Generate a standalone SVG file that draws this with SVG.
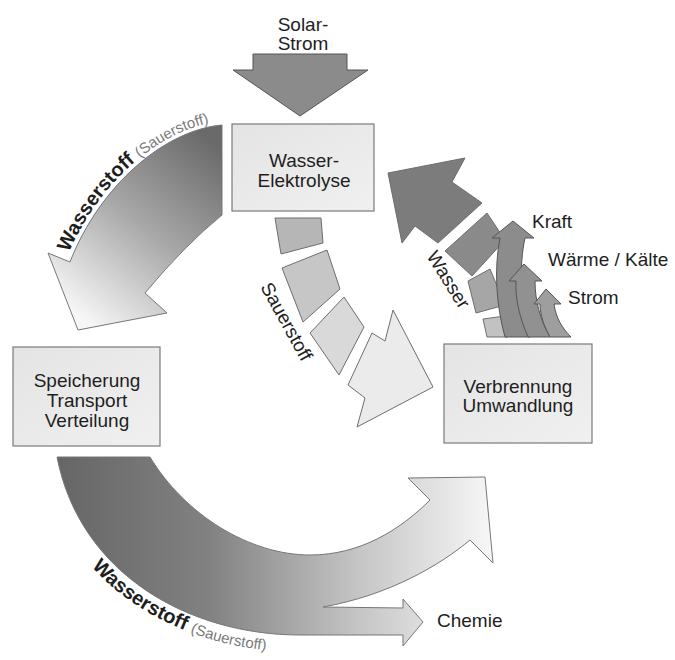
<svg xmlns="http://www.w3.org/2000/svg" width="675" height="660" viewBox="0 0 675 660">
<style>
text{font-family:"Liberation Sans",Arial,sans-serif;fill:#1e1e1e;font-size:19px}
.box{fill:url(#boxg);stroke:#7a7a7a;stroke-width:1.2}
.seg{stroke:#6e6e6e;stroke-width:1}
.dark{stroke:#555;stroke-width:1}
.bold{font-weight:bold;font-size:20px}
.paren{fill:#7a7a7a;font-size:15px;font-weight:normal}
</style>
<defs>
<linearGradient id="boxg" x1="0" y1="0" x2="1" y2="1"><stop offset="0" stop-color="#e4e4e4"/><stop offset="1" stop-color="#f0f0f0"/></linearGradient>
<linearGradient id="gl" gradientUnits="userSpaceOnUse" x1="222" y1="150" x2="85" y2="320"><stop offset="0" stop-color="#6a6a6a"/><stop offset="0.5" stop-color="#a8a8a8"/><stop offset="1" stop-color="#f6f6f6"/></linearGradient>
<linearGradient id="gb" gradientUnits="userSpaceOnUse" x1="57" y1="0" x2="490" y2="0"><stop offset="0" stop-color="#666"/><stop offset="0.35" stop-color="#818181"/><stop offset="0.7" stop-color="#c6c6c6"/><stop offset="1" stop-color="#f6f6f6"/></linearGradient>
<path id="tpTop" d="M66,260 C96,183 162,127 222,121"/>
<path id="tpBot" d="M40,460 C64,590 185,652 300,652 L400,652"/>
</defs>

<g id="connectors">
  <g id="solar-arrow">
    <polygon points="253,54 347,54 347,70 368,70 300,116 233,70 253,70" fill="#8b8b8b" class="dark"/>
  </g>
  <g id="wasserstoff-left">
    <path d="M222,125 C165,130 100,185 70,262 L48,253 L78,330 L167,313 L145,293 Q185,245 222,215 Z" fill="url(#gl)" stroke="#777" stroke-width="1"/>
  </g>
  <g id="wasserstoff-bottom">
    <path d="M57,457 L150,457 C185,515 250,555 310,555 C360,555 400,530 430,500 L408,478 L485,477 L493,563 L470,540 C440,565 390,595 323,607 L403,608 L403,599 L423,622 L403,646 L403,635 L300,635 C190,635 80,575 57,457 Z" fill="url(#gb)" stroke="#777" stroke-width="1"/>
  </g>
  <g id="sauerstoff">
    <polygon class="seg" fill="#b6b6b6" points="275,218 321,218 323,243 281,254"/>
    <polygon class="seg" fill="#c6c6c6" points="282,268 327,250 340,289 303,322"/>
    <polygon class="seg" fill="#d9d9d9" points="310,333 344,297 364,327 339,375"/>
    <polygon class="seg" fill="#ebebeb" points="372,333 385,341 393,310 433,387 357,427 365,398 348,385"/>
  </g>
  <g id="wasser">
    <polygon class="seg" fill="#7c7c7c" points="388,173 465,158 452,182 482,203 438,243 415,226 402,243"/>
    <polygon class="seg" fill="#8a8a8a" points="445,251 487,213 505,240 472,276"/>
    <polygon class="seg" fill="#a6a6a6" points="468,281 490,269 505,305 476,313"/>
    <polygon class="seg" fill="#c2c2c2" points="483,319 505,316 508,337 487,337"/>
  </g>
  <g id="outputs">
    <path class="dark" fill="#8c8c8c" d="M513,221 L534,238 L525,238 C519,265 520,305 530,337 L505,337 C496,305 494,268 500,238 L492,238 Z"/>
    <path class="dark" fill="#919191" d="M524,264 L542,281 L535,281 C535,300 540,320 550,337 L528,337 C520,318 515,300 516,281 L509,281 Z"/>
    <path class="dark" fill="#9e9e9e" d="M546,289 L561,304 L554,304 C556,318 562,328 571,337 L550,337 C544,326 540,315 540,304 L534,304 Z"/>
  </g>
</g>

<g id="labels">
  <text x="303" y="31" text-anchor="middle">Solar-</text>
  <text x="303" y="50" text-anchor="middle">Strom</text>
  <text class="bold"><textPath href="#tpTop" startOffset="8">Wasserstoff <tspan class="paren">(Sauerstoff)</tspan></textPath></text>
  <text class="bold"><textPath href="#tpBot" startOffset="120">Wasserstoff <tspan class="paren">(Sauerstoff)</tspan></textPath></text>
  <text transform="translate(260,287) rotate(61)">Sauerstoff</text>
  <text transform="translate(426,256) rotate(58)">Wasser</text>
  <text x="532" y="228">Kraft</text>
  <text x="548" y="266">Wärme / Kälte</text>
  <text x="568" y="304">Strom</text>
  <text x="437" y="627">Chemie</text>
</g>

<g id="node-elektrolyse">
  <rect class="box" x="232" y="124" width="142" height="87"/>
  <text x="304" y="167" text-anchor="middle">Wasser-</text>
  <text x="304" y="187" text-anchor="middle">Elektrolyse</text>
</g>
<g id="node-speicherung">
  <rect class="box" x="13" y="347" width="147" height="99"/>
  <text x="87" y="387" text-anchor="middle">Speicherung</text>
  <text x="87" y="407" text-anchor="middle">Transport</text>
  <text x="87" y="427" text-anchor="middle">Verteilung</text>
</g>
<g id="node-verbrennung">
  <rect class="box" x="444" y="344" width="148" height="99"/>
  <text x="518" y="393" text-anchor="middle">Verbrennung</text>
  <text x="518" y="412" text-anchor="middle">Umwandlung</text>
</g>
</svg>
